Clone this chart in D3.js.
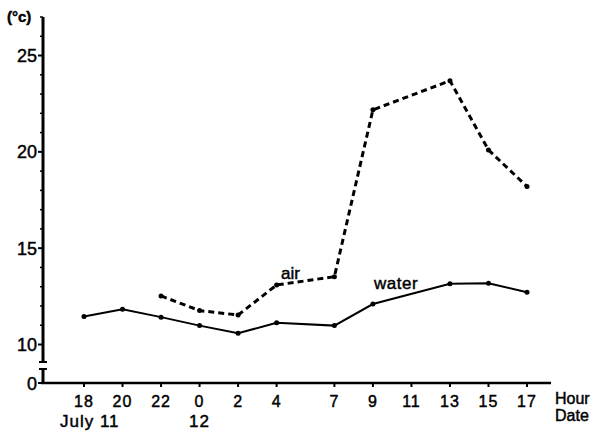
<!DOCTYPE html>
<html>
<head>
<meta charset="utf-8">
<script src="https://cdn.jsdelivr.net/npm/d3@7"></script>
<style>
body { margin: 0; background: #fff; }
text { font-family: "Liberation Sans", Arial, sans-serif; fill: #000; stroke: #000; stroke-width: 0.45px; }
</style>
</head>
<body>
<div id="chart-area"></div>
<script>
// hours since 18:00 on July 11
var hours = [0, 2, 4, 6, 8, 10, 13, 15, 17, 19, 21, 23];
var hourLabels = ["18", "20", "22", "0", "2", "4", "7", "9", "11", "13", "15", "17"];
var water = [11.45, 11.83, 11.42, 10.98, 10.58, 11.13, 10.98, 12.1, null, 13.15, 13.18, 12.71];
var air = [null, null, 12.52, 11.76, 11.53, 13.09, 13.52, 22.18, null, 23.69, 20.1, 18.2];
var yTicks = [0, 10, 15, 20, 25];
var dates = [{h: 0.3, label: "July 11"}, {h: 6, label: "12"}];

var width = 595, height = 431;
var axisX = 43, axisY = 383;

var svg = d3.select("#chart-area").append("svg")
	.attr("width", width)
	.attr("height", height);

var x = d3.scaleLinear().domain([0, 23]).range([84, 527]);
// broken axis: 0 sits below the break, 10..27 above it
var y = d3.scaleLinear().domain([0, 10, 27]).range([axisY, 344.5, 17]);

// y axis line with break
svg.append("line").attr("x1", axisX).attr("x2", axisX)
	.attr("y1", y(27)).attr("y2", 362)
	.attr("stroke", "#000").attr("stroke-width", 3);
svg.append("line").attr("x1", axisX).attr("x2", axisX)
	.attr("y1", 369).attr("y2", axisY + 1)
	.attr("stroke", "#000").attr("stroke-width", 3);
[362, 369].forEach(function(b) {
	svg.append("line").attr("x1", axisX - 4).attr("x2", axisX + 4)
		.attr("y1", b).attr("y2", b)
		.attr("stroke", "#000").attr("stroke-width", 2);
});

// minor ticks every degree
var minor = d3.range(11, 28).filter(function(d) { return d % 5 != 0; });
svg.selectAll(".minor").data(minor).enter().append("line")
	.attr("x1", axisX - 3).attr("x2", axisX)
	.attr("y1", function(d) { return y(d); })
	.attr("y2", function(d) { return y(d); })
	.attr("stroke", "#000").attr("stroke-width", 1.5);

svg.selectAll(".ytick").data(yTicks).enter().append("line")
	.attr("x1", axisX - 5).attr("x2", axisX)
	.attr("y1", function(d) { return y(d); })
	.attr("y2", function(d) { return y(d); })
	.attr("stroke", "#000").attr("stroke-width", 2);

svg.selectAll(".ylabel").data(yTicks).enter().append("text")
	.attr("x", axisX - 6)
	.attr("y", function(d) { return y(d) + 6.5; })
	.attr("text-anchor", "end")
	.attr("font-size", "18px")
	.text(function(d) { return d; });

svg.append("text").attr("x", 7).attr("y", 22)
	.attr("font-size", "15px").attr("font-weight", "bold")
	.text("(°c)");

// x axis
svg.append("line").attr("x1", axisX - 2).attr("x2", 551)
	.attr("y1", axisY).attr("y2", axisY)
	.attr("stroke", "#000").attr("stroke-width", 2.5);

svg.selectAll(".xtick").data(hours).enter().append("line")
	.attr("x1", function(d) { return x(d); })
	.attr("x2", function(d) { return x(d); })
	.attr("y1", axisY).attr("y2", axisY + 4)
	.attr("stroke", "#000").attr("stroke-width", 2);

svg.selectAll(".xlabel").data(hours).enter().append("text")
	.attr("x", function(d) { return x(d); })
	.attr("y", 407)
	.attr("text-anchor", "middle")
	.attr("font-size", "16px")
	.attr("letter-spacing", "1px")
	.text(function(d, i) { return hourLabels[i]; });

svg.selectAll(".date").data(dates).enter().append("text")
	.attr("x", function(d) { return x(d.h); })
	.attr("y", 427)
	.attr("text-anchor", "middle")
	.attr("font-size", "17px")
	.attr("letter-spacing", "1px")
	.text(function(d) { return d.label; });

svg.append("text").attr("x", 555).attr("y", 404).attr("font-size", "16px").text("Hour");
svg.append("text").attr("x", 555).attr("y", 421).attr("font-size", "16px").text("Date");

// series
function pts(vals) {
	return hours.map(function(h, i) { return {h: h, v: vals[i]}; })
		.filter(function(d) { return d.v != null; });
}
var line = d3.line()
	.x(function(d) { return x(d.h); })
	.y(function(d) { return y(d.v); });

var waterPts = pts(water), airPts = pts(air);

svg.append("path").datum(waterPts).attr("d", line)
	.attr("fill", "none").attr("stroke", "#000").attr("stroke-width", 2);
svg.append("path").datum(airPts).attr("d", line)
	.attr("fill", "none").attr("stroke", "#000").attr("stroke-width", 3)
	.attr("stroke-dasharray", "6,4");

svg.selectAll(".wdot").data(waterPts.concat(airPts)).enter().append("circle")
	.attr("cx", function(d) { return x(d.h); })
	.attr("cy", function(d) { return y(d.v); })
	.attr("r", 2.5)
	.attr("fill", "#000");

svg.append("text").attr("x", 281).attr("y", 279).attr("font-size", "17px").text("air");
svg.append("text").attr("x", 374).attr("y", 289).attr("font-size", "17px").attr("letter-spacing", "0.5px").text("water");
</script>
</body>
</html>
